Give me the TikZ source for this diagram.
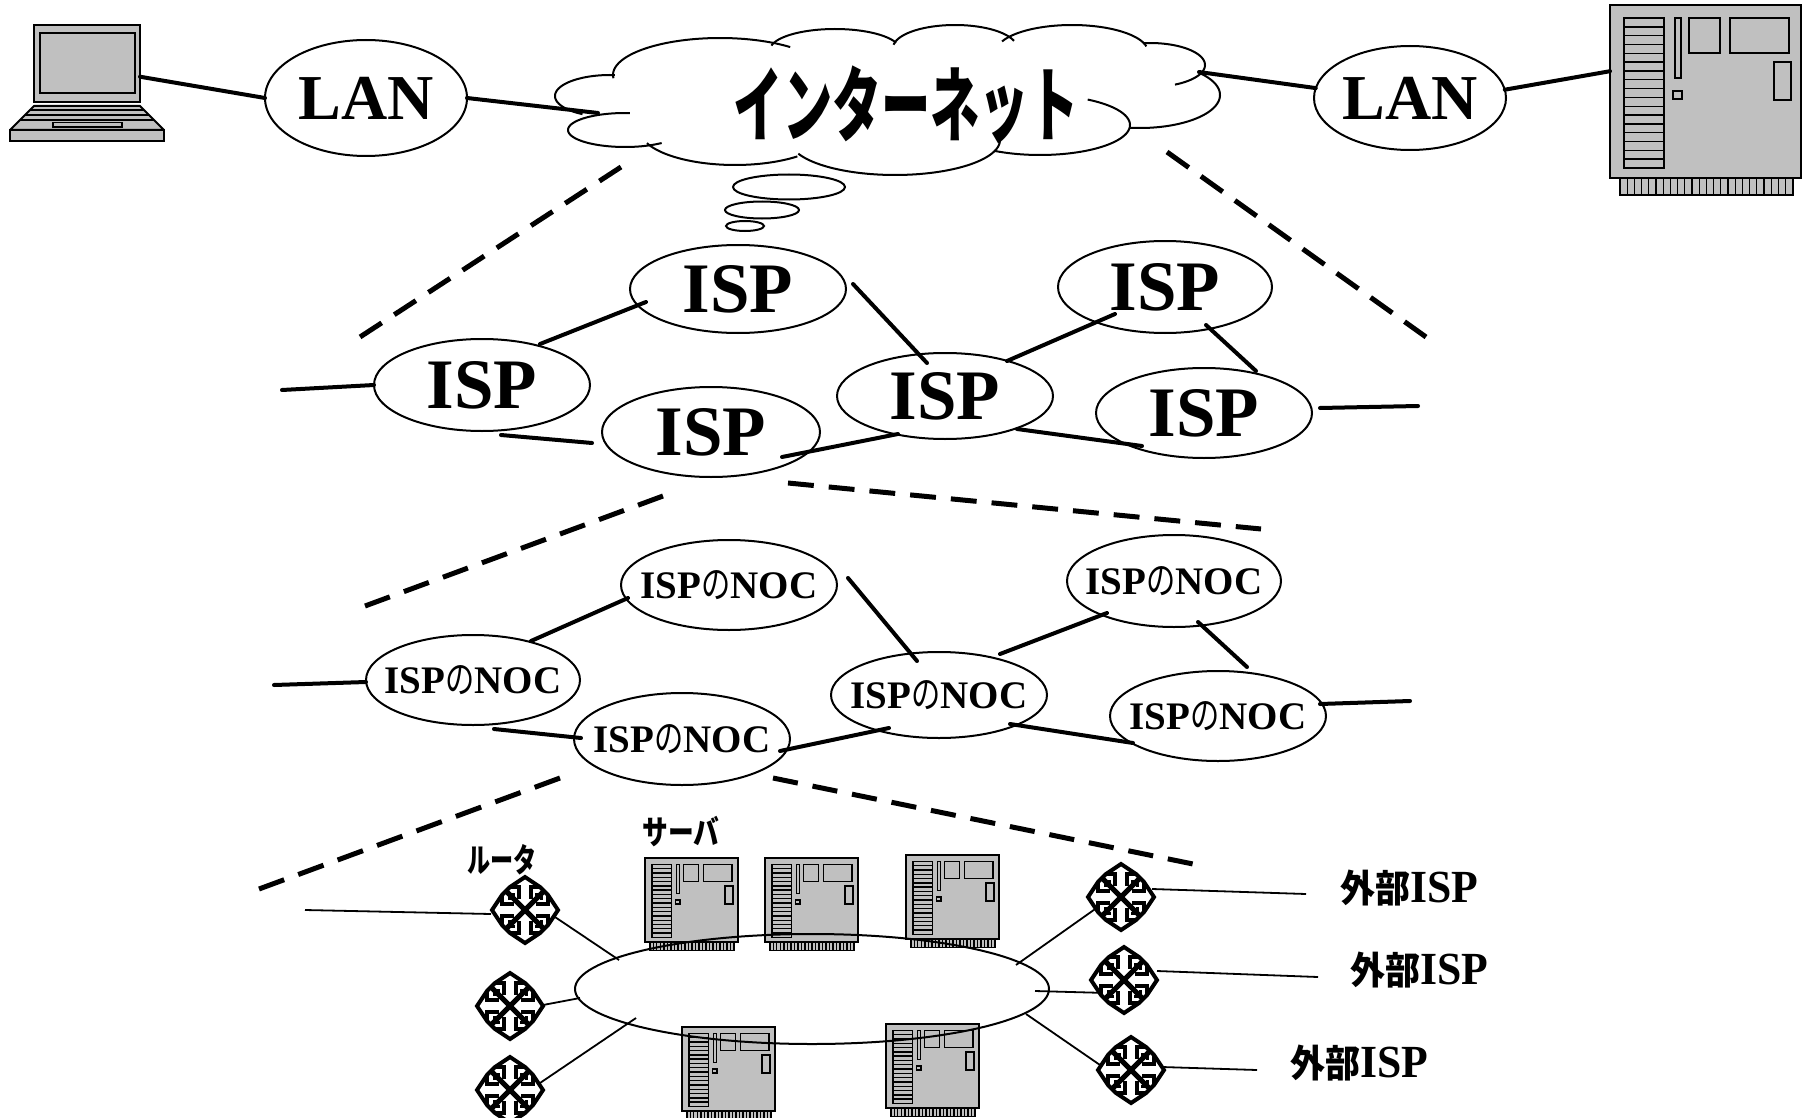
\documentclass[tikz,border=0pt]{standalone}
\usepackage{fontspec}
\usepackage{graphicx}
\setmainfont{Liberation Serif}
\newfontfamily\jp{Noto Sans CJK JP}
\usetikzlibrary{calc,shapes.geometric}

\definecolor{devfill}{HTML}{C0C0C0}

\tikzset{
  bubble/.style={draw, ellipse, line width=2pt, inner sep=0pt, outer sep=0pt},
  link/.style={line width=4pt, line cap=round},
  thinlink/.style={line width=1.8pt},
  zoomline/.style={line width=5pt, dash pattern=on #1pt off 15pt},
  cloudline/.style={line width=2pt},
  devbox/.style={inner sep=0pt, outer sep=0pt},
  lantxt/.style={inner sep=0pt, font=\fontsize{64}{70}\selectfont\bfseries},
  isptxt/.style={inner sep=0pt, font=\fontsize{71}{76}\selectfont\bfseries},
  noctxt/.style={inner sep=0pt, font=\fontsize{39}{44}\selectfont\bfseries},
  kanatxt/.style={inner sep=0pt, font=\fontsize{33}{36}\selectfont\jp\bfseries},
  exttxt/.style={inner sep=0pt, anchor=west},
  % server cabinet, origin at the top left corner of its front panel
  server/.pic={
    \fill[devfill] (0,0) rectangle (191,173);
    \draw[line width=1.6pt, fill=devfill] (10,173) rectangle (183,190);
    \foreach \i in {1,...,24} \draw[line width=1.2pt] ({10+\i*7.2},173) -- ({10+\i*7.2},190);
    \draw[line width=2pt] (0,0) rectangle (191,173);
    \draw[line width=1.6pt] (14,13) rectangle (54,163);
    \foreach \j in {1,...,16} \draw[line width=1.4pt] (14,{13+\j*150/17}) -- (54,{13+\j*150/17});
    \draw[line width=1.6pt] (65,13) rectangle (71,73);
    \draw[line width=1.6pt] (63,86) rectangle (72,94);
    \draw[line width=1.6pt] (79,13) rectangle (110,48);
    \draw[line width=1.6pt] (120,13) rectangle (179,48);
    \draw[line width=1.6pt] (164,57) rectangle (181,95);
  },
  % router symbol, centred on the origin
  router/.pic={
    \fill[white] (0,-33) -- (15,-23) -- (23,-15) -- (33,0) -- (23,15) -- (15,23) -- (0,33) -- (-15,23) -- (-23,15) -- (-33,0) -- (-23,-15) -- (-15,-23) -- cycle;
    \draw[line width=4pt, line join=miter] (0,-33) -- (15,-23) -- (23,-15) -- (33,0) -- (23,15) -- (15,23) -- (0,33) -- (-15,23) -- (-23,15) -- (-33,0) -- (-23,-15) -- (-15,-23) -- cycle;
    \draw[line width=5pt] (-18,-18) -- (18,18) (-18,18) -- (18,-18);
    \foreach \r in {0,90,180,270} {
      \begin{scope}[rotate=\r]
        \draw[line width=4pt] (-15,-23) -- (-6,-23) -- (-6,-11) (15,-23) -- (6,-23) -- (6,-11);
        \draw[line width=3pt] (10,-16) -- (16,-16) -- (16,-10);
      \end{scope}
    }
  }
}

% one lobe of the cloud outline: centre, radii, angle range
\newcommand\cloudlobe[6]{%
  \draw[cloudline] plot[domain=#5:#6, samples=60, variable=\t] ({#1+#3*cos(\t)},{#2-#4*sin(\t)});}

\begin{document}
\begin{tikzpicture}[x=1pt, y=-1pt]
\useasboundingbox (0,0) rectangle (1803,1118);

% ---------------- top row: laptop, LAN, Internet, LAN, server
\draw[line width=2pt, fill=devfill] (34,25) rectangle (140,102);
\draw[line width=2pt, fill=devfill] (40,33) rectangle (135,93);
\draw[line width=2pt, fill=devfill, line join=round] (34,106) -- (140,106) -- (164,130) -- (10,130) -- cycle;
\draw[line width=1.6pt] (30,110) -- (144,110) (25,115) -- (149,115) (20,120) -- (154,120);
\draw[line width=1.6pt] (53,122.5) rectangle (122,127);
\draw[line width=2pt, fill=devfill] (10,130) rectangle (164,141);
\node[devbox, minimum width=106pt, minimum height=77pt] (laptop) at (87,63.5) {};

\pic at (1610,5) {server};
\node[devbox, minimum width=191pt, minimum height=173pt] (srvbig) at (1705.5,91.5) {};

\node[bubble, minimum width=202pt, minimum height=116pt] (lan1) at (366,98) {};
\node[lantxt] (lan1t) at (lan1) {LAN};
\node[bubble, minimum width=192pt, minimum height=104pt] (lan2) at (1410,98) {};
\node[lantxt] (lan2t) at (lan2) {LAN};

% cloud
\cloudlobe{720}{75}{107}{37}{49}{185}
\cloudlobe{835}{50}{65}{21}{20}{168}
\cloudlobe{955}{48}{62}{23}{18}{172}
\cloudlobe{1072}{52}{76}{27}{12}{157}
\cloudlobe{1150}{65}{55}{22}{-63}{97}
\cloudlobe{1140}{95}{80}{33}{-97}{41}
\cloudlobe{1040}{125}{90}{30}{-120}{58}
\cloudlobe{895}{140}{105}{35}{203}{362}
\cloudlobe{735}{130}{95}{35}{202}{311}
\cloudlobe{625}{130}{57}{17}{85}{310}
\cloudlobe{610}{96}{55}{21}{85}{240}
\node[inner sep=0pt] (net) at (906,105) {\fontsize{82}{90}\selectfont\jp\bfseries\scalebox{0.6}[1]{インターネット}};
\coordinate (netW) at (598,113);
\coordinate (netE) at (1199,72);

\node[bubble, minimum width=112pt, minimum height=25pt] (puff1) at (789,187) {};
\node[bubble, minimum width=74pt, minimum height=17pt] (puff2) at (762,210) {};
\node[bubble, minimum width=38pt, minimum height=10pt] (puff3) at (745,226) {};

\draw[link] (laptop.-14) -- (lan1.west);
\draw[link] (lan1.east) -- (netW);
\draw[link] (netE) -- (lan2.174);
\draw[link] (lan2.5) -- (srvbig.168);

% ---------------- ISP layer
\coordinate (zA1) at (621,167);  \coordinate (zA2) at (360,337);
\coordinate (zB1) at (1167,152); \coordinate (zB2) at (1426,337);
\draw[zoomline=25.8] (zA1) -- (zA2);
\draw[zoomline=26.7] (zB1) -- (zB2);

\node[bubble, minimum width=216pt, minimum height=88pt] (ispA) at (738,289) {};
\node[bubble, minimum width=216pt, minimum height=92pt] (ispB) at (482,385) {};
\node[bubble, minimum width=218pt, minimum height=90pt] (ispC) at (711,432) {};
\node[bubble, minimum width=216pt, minimum height=86pt] (ispD) at (945,396) {};
\node[bubble, minimum width=214pt, minimum height=92pt] (ispE) at (1165,287) {};
\node[bubble, minimum width=216pt, minimum height=90pt] (ispF) at (1204,413) {};
\foreach \n in {ispA,ispB,ispC,ispD,ispE,ispF} \node[isptxt] (\n-t) at (\n) {ISP};

\coordinate (ispstubL) at (282,390);
\coordinate (ispstubR) at (1418,406);
\draw[link] (ispstubL) -- (ispB.west);
\draw[link] ($(ispB)+(58,-41)$) -- ($(ispA)+(-92,13)$);
\draw[link] ($(ispB)+(19,50)$) -- ($(ispC)+(-119,11)$);
\draw[link] ($(ispA)+(115,-5)$) -- ($(ispD)+(-18,-33)$);
\draw[link] ($(ispC)+(71,25)$) -- ($(ispD)+(-47,38)$);
\draw[link] ($(ispD)+(62,-35)$) -- ($(ispE)+(-50,27)$);
\draw[link] ($(ispE)+(41,38)$) -- ($(ispF)+(52,-42)$);
\draw[link] ($(ispD)+(72,33)$) -- ($(ispF)+(-62,33)$);
\draw[link] ($(ispF)+(116,-5)$) -- (ispstubR);

% ---------------- NOC layer
\coordinate (zC1) at (663,496);  \coordinate (zC2) at (365,606);
\coordinate (zD1) at (788,483);  \coordinate (zD2) at (1261,529);
\draw[zoomline=26.6] (zC1) -- (zC2);
\draw[zoomline=25.9] (zD1) -- (zD2);

\node[bubble, minimum width=216pt, minimum height=90pt] (nocA) at (729,585) {};
\node[bubble, minimum width=214pt, minimum height=90pt] (nocB) at (473,680) {};
\node[bubble, minimum width=216pt, minimum height=92pt] (nocC) at (682,739) {};
\node[bubble, minimum width=216pt, minimum height=86pt] (nocD) at (939,695) {};
\node[bubble, minimum width=214pt, minimum height=92pt] (nocE) at (1174,581) {};
\node[bubble, minimum width=216pt, minimum height=90pt] (nocF) at (1218,716) {};
\foreach \n in {nocA,nocB,nocC,nocD,nocE,nocF}
  \node[noctxt] (\n-t) at (\n) {ISP{\jp\mdseries\scalebox{0.75}[1]{の}}NOC};

\coordinate (nocstubL) at (274,685);
\coordinate (nocstubR) at (1410,701);
\draw[link] (nocstubL) -- ($(nocB)+(-107,2)$);
\draw[link] ($(nocB)+(58,-39)$) -- ($(nocA)+(-101,13)$);
\draw[link] ($(nocB)+(21,49)$) -- ($(nocC)+(-101,-1)$);
\draw[link] ($(nocA)+(119,-7)$) -- ($(nocD)+(-22,-34)$);
\draw[link] ($(nocC)+(98,12)$) -- ($(nocD)+(-50,33)$);
\draw[link] ($(nocD)+(61,-41)$) -- ($(nocE)+(-67,32)$);
\draw[link] ($(nocE)+(24,41)$) -- ($(nocF)+(29,-49)$);
\draw[link] ($(nocD)+(71,29)$) -- ($(nocF)+(-85,27)$);
\draw[link] ($(nocF)+(102,-12)$) -- (nocstubR);

% ---------------- NOC interior: servers on a LAN ring, routers
\coordinate (zE1) at (560,778);  \coordinate (zE2) at (259,889);
\coordinate (zF1) at (773,778);  \coordinate (zF2) at (1193,864);
\draw[zoomline=27] (zE1) -- (zE2);
\draw[zoomline=25.3] (zF1) -- (zF2);

\pic[scale=0.487] at (645,858) {server};
\pic[scale=0.487] at (765,858) {server};
\pic[scale=0.487] at (906,855) {server};
\pic[scale=0.487] at (682,1027) {server};
\pic[scale=0.487] at (886,1024) {server};

\node[draw, ellipse, line width=2pt, inner sep=0pt, outer sep=0pt,
      minimum width=474pt, minimum height=110pt] (ring) at (812,989) {};

\node[devbox, minimum width=66pt, minimum height=66pt] (r1) at (525,910) {};
\node[devbox, minimum width=66pt, minimum height=66pt] (r2) at (510,1006) {};
\node[devbox, minimum width=66pt, minimum height=66pt] (r3) at (510,1090) {};
\node[devbox, minimum width=66pt, minimum height=66pt] (r4) at (1121,897) {};
\node[devbox, minimum width=66pt, minimum height=66pt] (r5) at (1124,980) {};
\node[devbox, minimum width=66pt, minimum height=66pt] (r6) at (1131,1070) {};

\node[kanatxt] (routerlbl) at (502,860) {\scalebox{0.7}[1]{ルータ}};
\node[kanatxt] (serverlbl) at (681,832) {\scalebox{0.78}[1]{サーバ}};

\node[exttxt] (ext1) at (1340,888) {{\fontsize{38}{42}\selectfont\jp\bfseries\scalebox{0.92}[1]{外部}}{\fontsize{46}{50}\selectfont\bfseries\scalebox{0.95}[1]{ISP}}};
\node[exttxt] (ext2) at (1350,970) {{\fontsize{38}{42}\selectfont\jp\bfseries\scalebox{0.92}[1]{外部}}{\fontsize{46}{50}\selectfont\bfseries\scalebox{0.95}[1]{ISP}}};
\node[exttxt] (ext3) at (1290,1063) {{\fontsize{38}{42}\selectfont\jp\bfseries\scalebox{0.92}[1]{外部}}{\fontsize{46}{50}\selectfont\bfseries\scalebox{0.95}[1]{ISP}}};

\coordinate (routerstub) at (305,910);
\draw[thinlink] (routerstub) -- ($(r1)+(-34,4)$);
\draw[thinlink] ($(r1)+(30,7)$) -- ($(ring)+(-193,-29)$);
\draw[thinlink] ($(r2)+(33,-1)$) -- ($(ring)+(-232,9)$);
\draw[thinlink] ($(r3)+(30,-7)$) -- ($(ring)+(-176,29)$);
\draw[thinlink] ($(ring)+(204,-24)$) -- ($(r4)+(-23,10)$);
\draw[thinlink] ($(ring)+(223,2)$) -- ($(r5)+(-17,13)$);
\draw[thinlink] ($(ring)+(214,25)$) -- ($(r6)+(-31,-5)$);
\draw[thinlink] ($(r4)+(31,-8)$) -- ($(ext1.west)+(-34,6)$);
\draw[thinlink] ($(r5)+(33,-9)$) -- ($(ext2.west)+(-32,7)$);
\draw[thinlink] ($(r6)+(31,-3)$) -- ($(ext3.west)+(-33,7)$);

\foreach \r in {r1,r2,r3,r4,r5,r6} \pic at (\r) {router};

\end{tikzpicture}
\end{document}
